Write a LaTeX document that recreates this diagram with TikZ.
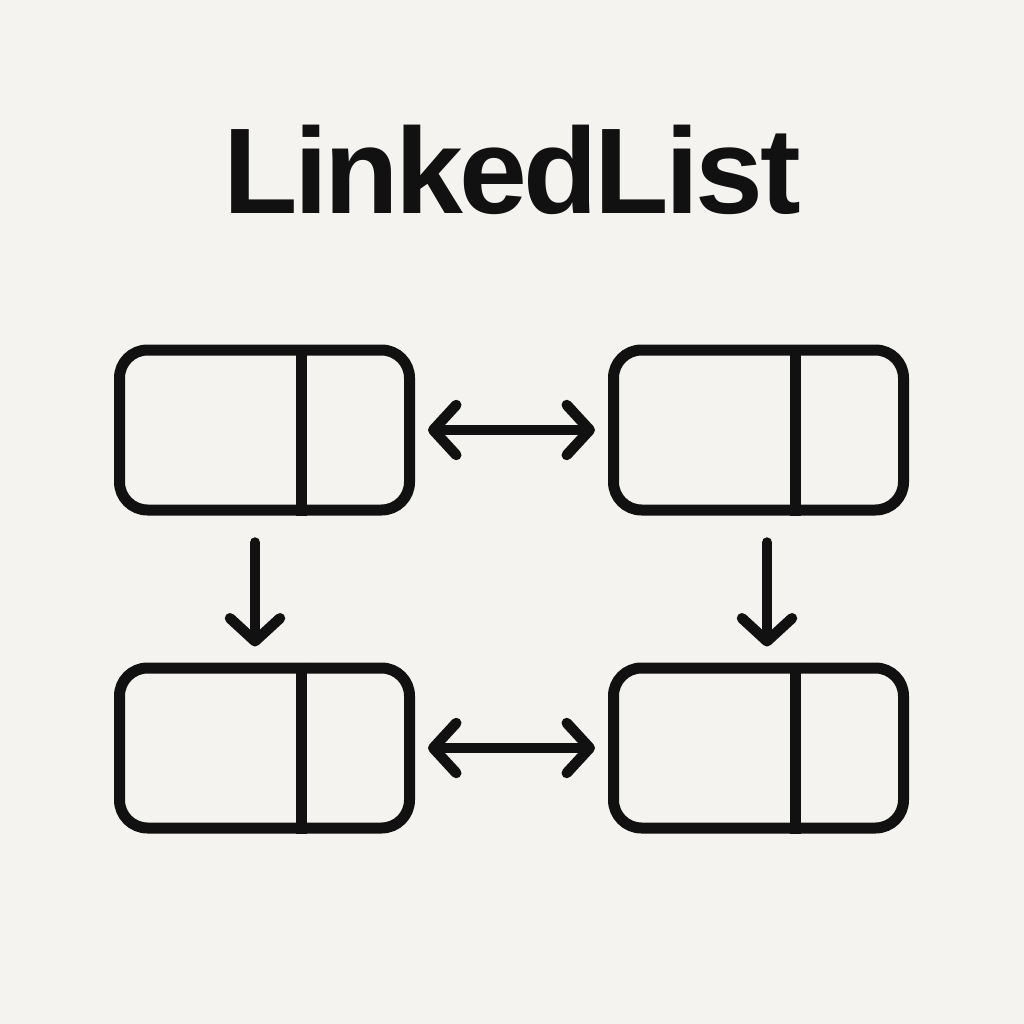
\documentclass[tikz,border=0pt]{standalone}
\usepackage{fontspec}
\setmainfont{Liberation Sans}
\newfontfamily\titlefont[LetterSpace=-3]{Liberation Sans}
\usetikzlibrary{arrows.meta}
\definecolor{bg}{HTML}{F5F3EF}
\definecolor{ink}{HTML}{111111}
\begin{document}
\begin{tikzpicture}[x=1pt,y=-1pt,
  cell/.style={draw=ink, line width=11pt, rounded corners=28pt, minimum width=290pt, minimum height=160pt, inner sep=0pt},
  divider/.style={draw=ink, line width=10.5pt},
  link/.style={draw=ink, line width=10.5pt, line cap=round, -{Straight Barb[length=23pt,width=50pt,round]}},
  dlink/.style={draw=ink, line width=10.5pt, line cap=round, {Straight Barb[length=23pt,width=50pt,round]}-{Straight Barb[length=23pt,width=50pt,round]}}
]
\fill[bg] (0,0) rectangle (1024,1024);
\useasboundingbox (0,0) rectangle (1024,1024);
\node[anchor=base, inner sep=0pt, font=\titlefont\fontsize{122}{130}\selectfont\bfseries, text=ink] (title) at (512,214) {LinkedList};
\node[cell] (tl) at (264.5,430) {};
\node[cell] (tr) at (758.5,430) {};
\node[cell] (bl) at (264.5,748) {};
\node[cell] (br) at (758.5,748) {};
\foreach \n in {tl,tr,bl,br}{
  \draw[divider] ([xshift=37pt]\n.north) -- ([xshift=37pt]\n.south);
}
\draw[dlink, shorten <=13pt, shorten >=13pt] (tl.east) -- (tr.west);
\draw[dlink, shorten <=13pt, shorten >=13pt] (bl.east) -- (br.west);
\draw[link, shorten <=27pt, shorten >=16pt] ([xshift=-9.5pt]tl.south) -- ([xshift=-9.5pt]bl.north);
\draw[link, shorten <=27pt, shorten >=16pt] ([xshift=8.5pt]tr.south) -- ([xshift=8.5pt]br.north);
\end{tikzpicture}
\end{document}
